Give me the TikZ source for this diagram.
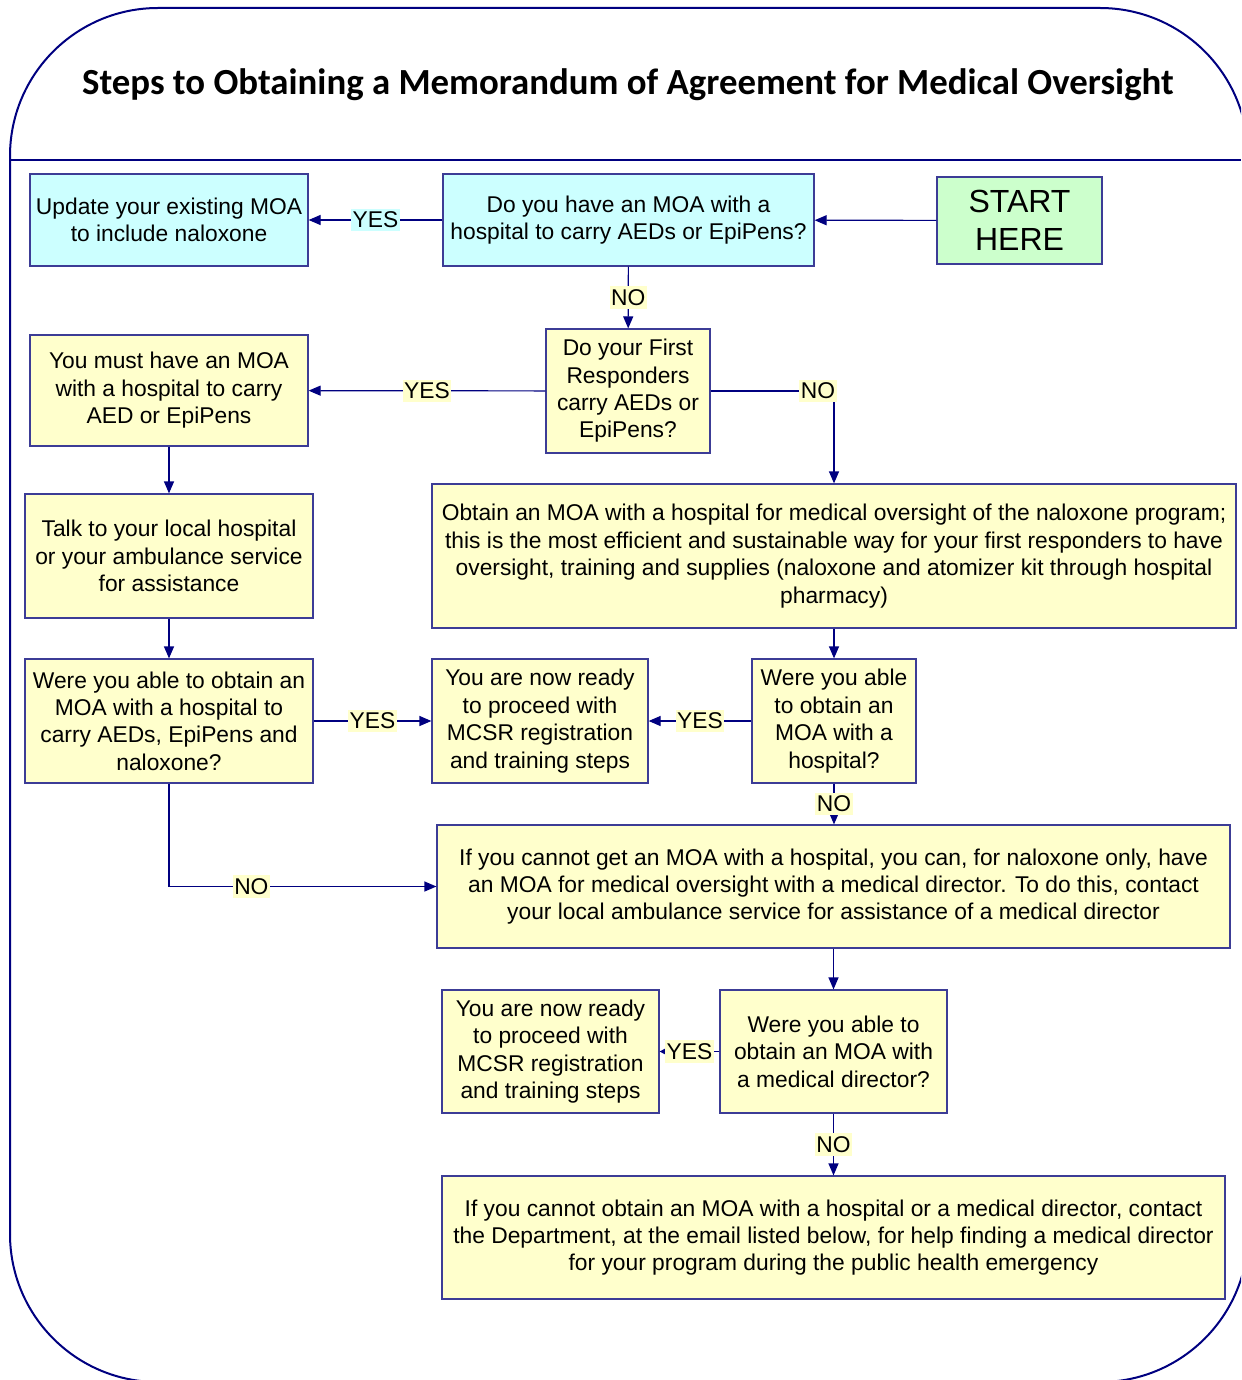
\documentclass[tikz,border=0pt]{standalone}
\usepackage{fontspec}
\setmainfont{Liberation Sans}
\newfontfamily\titlefont{Carlito}
\usetikzlibrary{arrows.meta}

\definecolor{navyline}{RGB}{0,0,128}
\definecolor{boxline}{RGB}{60,60,150}
\definecolor{cyanfill}{RGB}{204,255,255}
\definecolor{yellowfill}{RGB}{255,255,204}
\definecolor{greenfill}{RGB}{204,255,204}

\tikzset{
	stepbox/.style={draw=boxline, line width=0.6pt, fill=yellowfill, align=center, inner sep=2pt, font=\fontsize{11.4}{13.7}\selectfont},
	flow/.style={draw=navyline, line width=0.6pt, -{Triangle[length=6pt,width=5pt]}},
	answer/.style={fill=yellowfill, inner xsep=0.8pt, inner ysep=1.6pt, font=\fontsize{11.4}{13.7}\selectfont},
}

\begin{document}
\begin{tikzpicture}[x=0.5pt, y=-0.5pt]
				\useasboundingbox (0,0) rectangle (1241,1380);
				\clip (0,0) rectangle (1241,1380);
				
				% frame and title
				\draw [navyline, line width=1pt] (10,1234) -- (10,156) arc[start angle=180, end angle=270, radius=148] -- (1100,8) arc[start angle=270, end angle=360, radius=148];
				\draw [navyline, line width=1pt] (10,1234) arc[start angle=180, end angle=90, radius=148] -- (1100,1382) arc[start angle=90, end angle=0, radius=148];
				\draw [navyline, line width=1pt] (10,160) -- (1241,160);
				\node (title) at (628,85) {\titlefont\bfseries\fontsize{18.4}{22}\selectfont Steps to Obtaining a Memorandum of Agreement for Medical Oversight};
				
				% boxes
				\node [stepbox, fill=greenfill, minimum width=82.5pt, minimum height=43.5pt, font=\fontsize{16}{19}\selectfont] (start) at (1019.5,220.5) {START\\HERE};
				\node [stepbox, fill=cyanfill, minimum width=185.5pt, minimum height=46pt] (hasmoa) at (628.5,220) {Do you have an MOA with a\\hospital to carry AEDs or EpiPens?};
				\node [stepbox, fill=cyanfill, minimum width=139pt, minimum height=46pt] (update) at (169,220) {Update your existing MOA\\to include naloxone};
				\node [stepbox, minimum width=82pt, minimum height=62pt] (carry) at (628,391) {Do your First\\Responders\\carry AEDs or\\EpiPens?};
				\node [stepbox, minimum width=139pt, minimum height=55.5pt] (must) at (169,390.5) {You must have an MOA\\with a hospital to carry\\AED or EpiPens};
				\node [stepbox, minimum width=144pt, minimum height=62pt] (talk) at (169,556) {Talk to your local hospital\\or your ambulance service\\for assistance};
				\node [stepbox, minimum width=402pt, minimum height=72pt] (obtain) at (834,556) {Obtain an MOA with a hospital for medical oversight of the naloxone program;\\this is the most efficient and sustainable way for your first responders to have\\oversight, training and supplies (naloxone and atomizer kit through hospital\\pharmacy)};
				\node [stepbox, minimum width=144pt, minimum height=62pt] (ableall) at (169,721) {Were you able to obtain an\\MOA with a hospital to\\carry AEDs, EpiPens and\\naloxone?};
				\node [stepbox, minimum width=108pt, minimum height=62pt] (readyhosp) at (540,721) {You are now ready\\to proceed with\\MCSR registration\\and training steps};
				\node [stepbox, minimum width=82pt, minimum height=62pt] (ablehosp) at (834,721) {Were you able\\to obtain an\\MOA with a\\hospital?};
				\node [stepbox, minimum width=396.5pt, minimum height=61.5pt] (director) at (833.5,886.5) {If you cannot get an MOA with a hospital, you can, for naloxone only, have\\an MOA for medical oversight with a medical director. To do this, contact\\your local ambulance service for assistance of a medical director};
				\node [stepbox, minimum width=108.5pt, minimum height=61.5pt] (readydir) at (550.5,1051.5) {You are now ready\\to proceed with\\MCSR registration\\and training steps};
				\node [stepbox, minimum width=113.5pt, minimum height=61.5pt] (abledir) at (833.5,1051.5) {Were you able to\\obtain an MOA with\\a medical director?};
				\node [stepbox, minimum width=391.5pt, minimum height=61.5pt] (department) at (833.5,1237.5) {If you cannot obtain an MOA with a hospital or a medical director, contact\\the Department, at the email listed below, for help finding a medical director\\for your program during the public health emergency};
				
				% connectors
				\draw [flow] (start) -- (hasmoa);
				\draw [flow] (hasmoa) -- node[answer, fill=cyanfill]{YES} (update);
				\draw [flow] (hasmoa) -- node[answer]{NO} (carry);
				\draw [flow] (carry) -- node[answer]{YES} (must);
				\draw [flow] (carry) -| node[answer, pos=0.435]{NO} (obtain);
				\draw [flow] (must) -- (talk);
				\draw [flow] (talk) -- (ableall);
				\draw [flow] (ableall) -- node[answer]{YES} (readyhosp);
				\draw [flow] (obtain.south -| ablehosp) -- (ablehosp);
				\draw [flow] (ablehosp) -- node[answer]{YES} (readyhosp);
				\draw [flow] (ablehosp) -- node[answer]{NO} (ablehosp |- director.north);
				\draw [flow] (ableall) |- node[answer, pos=0.654]{NO} (director);
				\draw [flow] (director.south -| abledir) -- (abledir);
				\draw [flow, -{Triangle[length=3pt,width=3pt]}] (abledir) -- node[answer]{YES} (readydir);
				\draw [flow] (abledir) -- node[answer]{NO} (abledir |- department.north);
			\end{tikzpicture}
\end{document}
